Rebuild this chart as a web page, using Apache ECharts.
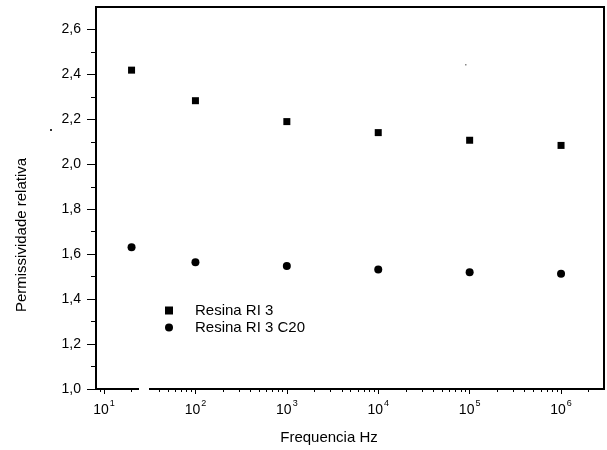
<!DOCTYPE html>
<html>
<head>
<meta charset="utf-8">
<script src="https://cdn.jsdelivr.net/npm/echarts@6/dist/echarts.min.js"></script>
<style>html,body{margin:0;padding:0;background:#fff}#c{width:607px;height:450px}</style>
</head>
<body>
<div id="c"></div>
<script>
const frequencies = [20, 100, 1000, 10000, 100000, 1000000];
const resinaRI3 = [2.419, 2.283, 2.19, 2.141, 2.107, 2.084];
const resinaRI3C20 = [1.631, 1.564, 1.547, 1.532, 1.520, 1.513];
const xTickExponents = [1, 2, 3, 4, 5, 6];
const yTickValues = [1.0, 1.2, 1.4, 1.6, 1.8, 2.0, 2.2, 2.4, 2.6];
const yMinorTickValues = [1.1, 1.3, 1.5, 1.7, 1.9, 2.1, 2.3, 2.5];

const X_MIN = Math.pow(10, 0.912), X_MAX = Math.pow(10, 6.47);
const xMajor = xTickExponents.map(e => Math.pow(10, e));
const xMinor = [];
for (let d = 0; d <= 6; d++) for (let m = 2; m <= 9; m++) {
  const v = m * Math.pow(10, d);
  if (v > X_MIN && v < X_MAX) xMinor.push(v);
}
const FONT = 'Liberation Sans, Arial, sans-serif';
const black = '#000';

const chart = echarts.init(document.getElementById('c'), null, {renderer: 'canvas'});
chart.setOption({
  animation: false,
  backgroundColor: '#fff',
  textStyle: {fontFamily: FONT},
  grid: {left: 96, right: 3, top: 7, bottom: 61, show: true, borderColor: black, borderWidth: 2, backgroundColor: 'transparent'},
  legend: {
    orient: 'vertical', left: 160, top: 298, itemWidth: 8, itemHeight: 8, itemGap: 2,
    textStyle: {fontSize: 15, color: black, fontFamily: FONT, padding: [0, 0, 0, 17]},
    data: [{name: 'Resina RI 3', icon: 'rect'}, {name: 'Resina RI 3 C20', icon: 'circle'}]
  },
  xAxis: [{
    type: 'log', logBase: 10, min: X_MIN, max: X_MAX, position: 'bottom',
    axisLine: {show: true, lineStyle: {color: black, width: 2}},
    axisTick: {show: true, inside: false, length: 5, customValues: xMajor, lineStyle: {color: black, width: 1}},
    axisLabel: {
      customValues: xMajor, margin: 10, color: black,
      formatter: v => '{b|10}{s|' + Math.round(Math.log10(v)) + '}',
      rich: {
        b: {fontSize: 14, lineHeight: 18, verticalAlign: 'bottom', fontFamily: FONT, color: black},
        s: {fontSize: 9, lineHeight: 10, verticalAlign: 'top', fontFamily: FONT, color: black, padding: [0, 0, 0, 1]}
      }
    },
    splitLine: {show: false}
  }, {
    type: 'log', logBase: 10, min: X_MIN, max: X_MAX, position: 'bottom',
    axisLine: {show: false},
    axisTick: {show: true, inside: false, length: 3, customValues: xMinor, lineStyle: {color: black, width: 1}},
    axisLabel: {show: false},
    splitLine: {show: false}
  }],
  yAxis: [{
    type: 'value', min: 1.0, max: 2.7, position: 'left',
    axisLine: {show: true, lineStyle: {color: black, width: 2}},
    axisTick: {show: true, inside: false, length: 9, customValues: yTickValues, lineStyle: {color: black, width: 1}},
    axisLabel: {customValues: yTickValues, margin: 15, fontSize: 14, color: black, fontFamily: FONT,
      formatter: v => v.toFixed(1).replace('.', ',')},
    splitLine: {show: false}
  }, {
    type: 'value', min: 1.0, max: 2.7, position: 'left',
    axisLine: {show: false},
    axisTick: {show: true, inside: false, length: 5, customValues: yMinorTickValues, lineStyle: {color: black, width: 1}},
    axisLabel: {show: false},
    splitLine: {show: false}
  }],
  series: [{
    name: 'Resina RI 3', type: 'scatter', symbol: 'rect', symbolSize: 7,
    itemStyle: {color: black, opacity: 1},
    data: frequencies.map((f, i) => [f, resinaRI3[i]])
  }, {
    name: 'Resina RI 3 C20', type: 'scatter', symbol: 'circle', symbolSize: 8,
    itemStyle: {color: black, opacity: 1},
    data: frequencies.map((f, i) => [f, resinaRI3C20[i]])
  }],
  graphic: [
    {type: 'rect', z: 100, shape: {x: 139, y: 385, width: 10, height: 9}, style: {fill: '#fff'}},
    {type: 'text', z: 100, x: 329, y: 438, style: {text: 'Frequencia Hz', fontSize: 15, fontFamily: FONT, fill: black, align: 'center', verticalAlign: 'middle'}},
    {type: 'text', z: 100, x: 22, y: 235, rotation: Math.PI / 2, style: {text: 'Permissividade relativa', fontSize: 15, fontFamily: FONT, fill: black, align: 'center', verticalAlign: 'middle'}},
    {type: 'rect', z: 100, shape: {x: 50, y: 129, width: 2, height: 2}, style: {fill: '#333'}},
    {type: 'rect', z: 100, shape: {x: 465, y: 64, width: 1.5, height: 1.5}, style: {fill: '#888'}}
  ]
});
</script>
</body>
</html>
